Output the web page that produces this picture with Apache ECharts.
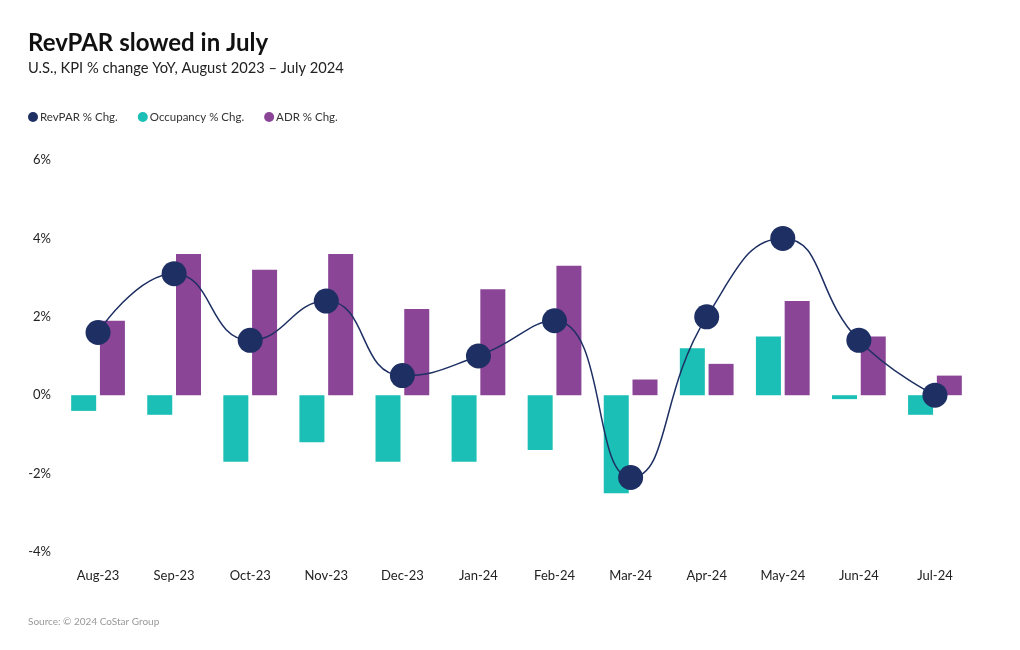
<!DOCTYPE html>
<html><head><meta charset="utf-8">
<script src="https://cdn.jsdelivr.net/npm/echarts@6/dist/echarts.min.js"></script>
<style>html,body{margin:0;padding:0;background:#fff}#c{width:1020px;height:650px}</style>
</head><body><div id="c"></div>
<script>
const categories = ['Aug-23','Sep-23','Oct-23','Nov-23','Dec-23','Jan-24','Feb-24','Mar-24','Apr-24','May-24','Jun-24','Jul-24'];
const revparChg = [1.6, 3.1, 1.4, 2.4, 0.5, 1.0, 1.9, -2.1, 2.0, 4.0, 1.4, 0.0];
const occupancyChg = [-0.4, -0.5, -1.7, -1.2, -1.7, -1.7, -1.4, -2.5, 1.2, 1.5, -0.1, -0.5];
const adrChg = [1.9, 3.6, 3.2, 3.6, 2.2, 2.7, 3.3, 0.4, 0.8, 2.4, 1.5, 0.5];
const yTicks = [-4, -2, 0, 2, 4, 6];

const FONT = '"Source Sans Pro", Lato, "Noto Sans", sans-serif';
const NAVY = '#1d2f63', TEAL = '#1bbfb5', PURPLE = '#8a4597';
const chart = echarts.init(document.getElementById('c'), null, {renderer: 'canvas'});
chart.setOption({
  backgroundColor: '#fff',
  animation: false,
  textStyle: {fontFamily: FONT},
  title: [
    {text: 'RevPAR slowed in July', left: 28, top: 31, padding: 0,
     textStyle: {fontFamily: FONT, fontSize: 24, fontWeight: 'bold', color: '#111'}},
    {text: 'U.S., KPI % change YoY, August 2023 – July 2024', left: 28, top: 61, padding: 0,
     textStyle: {fontFamily: FONT, fontSize: 14.7, fontWeight: 'normal', color: '#222'}},
    {text: 'Source: © 2024 CoStar Group', left: 28, top: 617, padding: 0,
     textStyle: {fontFamily: FONT, fontSize: 10, fontWeight: 'normal', color: '#999'}}
  ],
  legend: {
    left: 28, top: 111, padding: 0, itemWidth: 10, itemHeight: 10, itemGap: 20, icon: 'circle',
    textStyle: {fontFamily: FONT, fontSize: 11.5, color: '#333', padding: [0,0,0,-3]},
    data: ['RevPAR % Chg.', 'Occupancy % Chg.', 'ADR % Chg.']
  },
  grid: {left: 60, right: 47, top: 160, bottom: 98},
  xAxis: {
    type: 'category', data: categories,
    axisLine: {show: false}, axisTick: {show: false},
    axisLabel: {fontFamily: FONT, fontSize: 13, color: '#222', margin: 17}
  },
  yAxis: {
    type: 'value', min: -4, max: 6, interval: 2,
    splitLine: {show: false}, axisLine: {show: false}, axisTick: {show: false},
    axisLabel: {fontFamily: FONT, fontSize: 13, color: '#222', margin: 9,
      formatter: v => yTicks.includes(v) ? v + '%' : ''}
  },
  series: [
    {name: 'Occupancy % Chg.', type: 'bar', data: occupancyChg, barWidth: 25, barGap: '15%',
     itemStyle: {color: TEAL}, z: 1},
    {name: 'ADR % Chg.', type: 'bar', data: adrChg, barWidth: 25, barGap: '15%',
     itemStyle: {color: PURPLE}, z: 1},
    {name: 'RevPAR % Chg.', type: 'line', data: revparChg, smooth: 0.5,
     symbol: 'circle', symbolSize: 25, showAllSymbol: true,
     lineStyle: {color: NAVY, width: 1.5}, itemStyle: {color: NAVY}, z: 5}
  ]
});
</script></body></html>
